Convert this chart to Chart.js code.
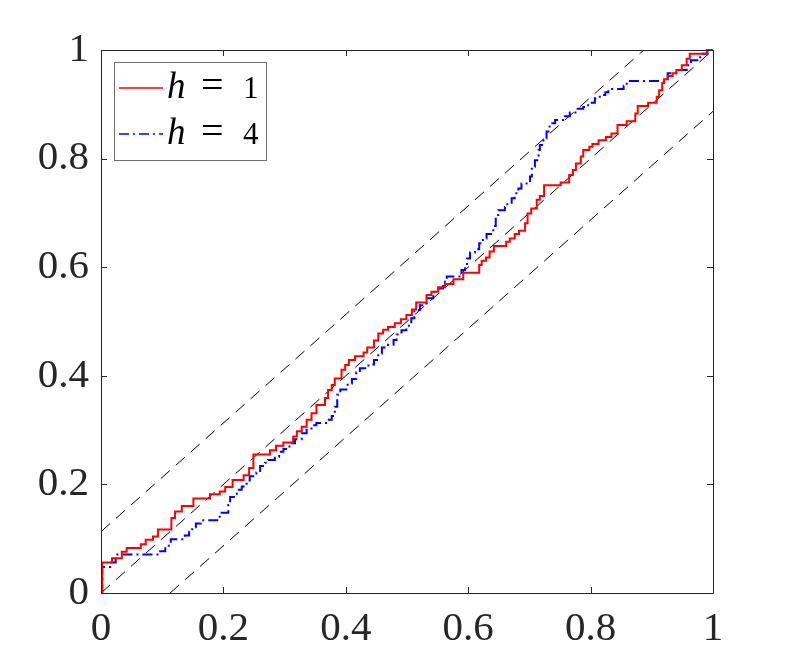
<!DOCTYPE html>
<html>
<head>
<meta charset="utf-8">
<script src="https://cdn.jsdelivr.net/npm/chart.js@4.4.1/dist/chart.umd.min.js"></script>
<style>
  html, body { margin: 0; padding: 0; background: #fff; }
  #wrap { width: 789px; height: 667px; position: relative; }
</style>
</head>
<body>
<div id="wrap"><canvas id="qqChart"></canvas></div>
<script>
'use strict';

// step points of the two empirical curves (x where the step happens, new y)
var redX = [0, 0.002, 0.018, 0.034, 0.042, 0.065, 0.073, 0.085, 0.093, 0.115, 0.121, 0.132, 0.151, 0.178, 0.194,
  0.203, 0.215, 0.233, 0.242, 0.249, 0.276, 0.286, 0.298, 0.314, 0.320, 0.328, 0.336, 0.344, 0.352, 0.366,
  0.371, 0.377, 0.382, 0.393, 0.399, 0.405, 0.415, 0.429, 0.435, 0.446, 0.453, 0.461, 0.469, 0.480, 0.490,
  0.499, 0.508, 0.515, 0.532, 0.540, 0.551, 0.562, 0.576, 0.592, 0.618, 0.622, 0.629, 0.635, 0.642, 0.662,
  0.668, 0.676, 0.683, 0.693, 0.697, 0.703, 0.712, 0.717, 0.724, 0.751, 0.765, 0.771, 0.776, 0.784, 0.788,
  0.798, 0.803, 0.813, 0.825, 0.834, 0.844, 0.859, 0.873, 0.877, 0.894, 0.908, 0.912, 0.917, 0.920, 0.926,
  0.934, 0.940, 0.949, 0.957, 0.962, 0.990, 1.0];
var redY = [0, 0.056, 0.064, 0.076, 0.083, 0.090, 0.098, 0.104, 0.117, 0.138, 0.150, 0.160, 0.174, 0.182, 0.187,
  0.195, 0.208, 0.217, 0.230, 0.255, 0.263, 0.271, 0.277, 0.288, 0.298, 0.306, 0.319, 0.331, 0.346, 0.359,
  0.374, 0.383, 0.395, 0.411, 0.420, 0.429, 0.436, 0.443, 0.452, 0.465, 0.478, 0.485, 0.490, 0.497, 0.504,
  0.512, 0.522, 0.535, 0.549, 0.555, 0.563, 0.569, 0.578, 0.590, 0.604, 0.612, 0.618, 0.629, 0.639, 0.647,
  0.653, 0.661, 0.667, 0.681, 0.699, 0.708, 0.724, 0.731, 0.751, 0.756, 0.770, 0.779, 0.791, 0.804, 0.816,
  0.822, 0.827, 0.834, 0.840, 0.846, 0.862, 0.869, 0.883, 0.897, 0.903, 0.914, 0.926, 0.939, 0.946, 0.952,
  0.957, 0.963, 0.972, 0.984, 0.993, 1.0, 1.0];

var blueX = [0, 0.002, 0.015, 0.024, 0.094, 0.105, 0.114, 0.137, 0.144, 0.149, 0.155, 0.163, 0.194, 0.208, 0.211,
  0.222, 0.230, 0.238, 0.243, 0.254, 0.260, 0.268, 0.273, 0.284, 0.291, 0.298, 0.308, 0.317, 0.328, 0.336,
  0.344, 0.352, 0.370, 0.377, 0.382, 0.386, 0.391, 0.403, 0.410, 0.417, 0.423, 0.437, 0.446, 0.453, 0.459,
  0.469, 0.478, 0.483, 0.491, 0.499, 0.507, 0.512, 0.521, 0.532, 0.543, 0.551, 0.559, 0.565, 0.589, 0.595,
  0.598, 0.603, 0.611, 0.618, 0.624, 0.630, 0.641, 0.645, 0.649, 0.660, 0.664, 0.671, 0.676, 0.682, 0.687,
  0.701, 0.704, 0.709, 0.715, 0.717, 0.723, 0.728, 0.733, 0.742, 0.758, 0.766, 0.777, 0.788, 0.796, 0.807,
  0.815, 0.824, 0.829, 0.854, 0.859, 0.926, 0.940, 0.957, 0.964, 0.979, 0.991, 1.0];
var blueY = [0, 0.048, 0.056, 0.071, 0.077, 0.087, 0.099, 0.106, 0.113, 0.121, 0.128, 0.134, 0.148, 0.162, 0.177,
  0.190, 0.196, 0.207, 0.215, 0.222, 0.234, 0.240, 0.245, 0.251, 0.260, 0.265, 0.276, 0.283, 0.294, 0.303,
  0.309, 0.313, 0.319, 0.326, 0.343, 0.365, 0.375, 0.386, 0.394, 0.406, 0.414, 0.421, 0.429, 0.441, 0.452,
  0.457, 0.466, 0.476, 0.484, 0.492, 0.506, 0.521, 0.530, 0.543, 0.555, 0.561, 0.573, 0.583, 0.595, 0.604,
  0.616, 0.627, 0.633, 0.644, 0.653, 0.661, 0.676, 0.696, 0.705, 0.711, 0.716, 0.727, 0.736, 0.745, 0.754,
  0.767, 0.785, 0.797, 0.816, 0.825, 0.837, 0.850, 0.865, 0.871, 0.878, 0.885, 0.892, 0.895, 0.903, 0.911,
  0.917, 0.922, 0.928, 0.934, 0.943, 0.957, 0.963, 0.972, 0.981, 0.993, 1.0, 1.0];

// reference diagonal and the +/- band
var diagX = [0, 1];
var diagY = [0, 1];
var upperX = [0, 0.887];
var upperY = [0.113, 1];
var lowerX = [0.113, 1];
var lowerY = [0, 0.887];

var tickValues = [0, 0.2, 0.4, 0.6, 0.8, 1];
var seriesNames = ['h = 1', 'h = 4'];

function toPoints(xs, ys) {
  return xs.map(function (x, i) { return { x: x, y: ys[i] }; });
}

var serif = 'Liberation Serif, Times New Roman, Times, Nimbus Roman, serif';
var axisColor = '#262626';

// touches the serif faces once per draw (drawn off the canvas, so nothing shows)
var fontProbe = {
  id: 'probe',
  afterDraw: function (chart) {
    var c = chart.ctx;
    var fams = ['"Liberation Serif"', 'Liberation Serif', '"Times New Roman"', 'Times', 'serif'];
    c.save();
    c.fillStyle = '#fff';
    fams.forEach(function (f, i) {
      c.font = '14px ' + f;
      c.measureText('0.2 h=1');
      c.fillText('0.2 h=1', 2000, 2000 + i * 18);
    });
    c.restore();
  }
};

// box, inward ticks on all four sides, and the legend
var framePlugin = {
  id: 'frame',
  afterDatasetsDraw: function (chart) {
    var ctx = chart.ctx;
    var a = chart.chartArea;
    var xs = chart.scales.x, ys = chart.scales.y;
    ctx.save();
    ctx.strokeStyle = axisColor;
    ctx.lineWidth = 1;
    ctx.setLineDash([]);
    ctx.strokeRect(Math.round(a.left) + 0.5, Math.round(a.top) + 0.5,
      Math.round(a.right - a.left), Math.round(a.bottom - a.top));
    var tl = 6;
    ctx.beginPath();
    tickValues.forEach(function (v) {
      var px = Math.round(xs.getPixelForValue(v)) + 0.5;
      ctx.moveTo(px, a.bottom); ctx.lineTo(px, a.bottom - tl);
      ctx.moveTo(px, a.top); ctx.lineTo(px, a.top + tl);
      var py = Math.round(ys.getPixelForValue(v)) + 0.5;
      ctx.moveTo(a.left, py); ctx.lineTo(a.left + tl, py);
      ctx.moveTo(a.right, py); ctx.lineTo(a.right - tl, py);
    });
    ctx.stroke();

    // legend box
    var lx = a.left + 13, ly = a.top + 12, lw = 152, lh = 98;
    ctx.fillStyle = '#fff';
    ctx.fillRect(lx, ly, lw, lh);
    ctx.strokeStyle = '#6e6e6e';
    ctx.strokeRect(lx + 0.5, ly + 0.5, lw, lh);
    var rows = [
      { ds: chart.data.datasets[0], y: ly + 26 },
      { ds: chart.data.datasets[1], y: ly + 72 }
    ];
    rows.forEach(function (r, i) {
      ctx.strokeStyle = r.ds.borderColor;
      ctx.lineWidth = 1.5;
      ctx.setLineDash(r.ds.borderDash || []);
      ctx.beginPath();
      ctx.moveTo(lx + 5, r.y);
      ctx.lineTo(lx + 49, r.y);
      ctx.stroke();
      ctx.setLineDash([]);
      ctx.fillStyle = '#000';
      ctx.textBaseline = 'alphabetic';
      ctx.textAlign = 'left';
      var parts = seriesNames[i].split(' = ');
      var base = r.y + 10;
      ctx.font = 'italic 37px ' + serif;
      ctx.fillText(parts[0], lx + 53, base);
      ctx.font = '40px ' + serif;
      ctx.fillText('=', lx + 87, base);
      ctx.font = '31px ' + serif;
      ctx.fillText(parts[1], lx + 129, base);
    });
    ctx.restore();
  }
};

function fmt(v) { return String(v); }

var ctx = document.getElementById('qqChart').getContext('2d');
var qqChart = new Chart(ctx, {
  type: 'line',
  data: {
    datasets: [{
      label: seriesNames[0],
      data: toPoints(redX, redY),
      borderColor: '#ff0000',
      borderWidth: 2,
      stepped: 'before',
      clip: 3,
      order: 1
    }, {
      label: seriesNames[1],
      data: toPoints(blueX, blueY),
      borderColor: '#0000ff',
      borderWidth: 2,
      borderDash: [10, 4, 2, 4],
      stepped: 'before',
      clip: 3,
      order: 2
    }, {
      data: toPoints(diagX, diagY),
      borderColor: '#000',
      borderWidth: 1,
      borderDash: [12, 8],
      order: 3
    }, {
      data: toPoints(upperX, upperY),
      borderColor: '#000',
      borderWidth: 1,
      borderDash: [12, 8],
      order: 3
    }, {
      data: toPoints(lowerX, lowerY),
      borderColor: '#000',
      borderWidth: 1,
      borderDash: [12, 8],
      order: 3
    }]
  },
  options: {
    responsive: true,
    maintainAspectRatio: false,
    animation: false,
    devicePixelRatio: 1,
    layout: { padding: { left: 0, right: 76, top: 50, bottom: 0 } },
    elements: { point: { radius: 0 }, line: { tension: 0, fill: false } },
    plugins: { legend: { display: false }, tooltip: { enabled: false } },
    scales: {
      x: {
        type: 'linear',
        min: 0,
        max: 1,
        afterFit: function (scale) { scale.height = 74; },
        afterBuildTicks: function (scale) {
          scale.ticks = tickValues.map(function (v) { return { value: v }; });
        },
        grid: { display: false, drawTicks: false },
        border: { display: false },
        ticks: { color: axisColor, padding: 12, font: { family: serif, size: 41 }, maxRotation: 0, callback: fmt }
      },
      y: {
        type: 'linear',
        min: 0,
        max: 1,
        afterFit: function (scale) { scale.width = 101; },
        afterBuildTicks: function (scale) {
          scale.ticks = tickValues.map(function (v) { return { value: v }; });
        },
        grid: { display: false, drawTicks: false },
        border: { display: false },
        ticks: { color: axisColor, padding: 12, font: { family: serif, size: 41 }, callback: fmt }
      }
    }
  },
  plugins: [framePlugin, fontProbe]
});

setTimeout(function () { qqChart.update(); }, 100);
</script>
</body>
</html>
